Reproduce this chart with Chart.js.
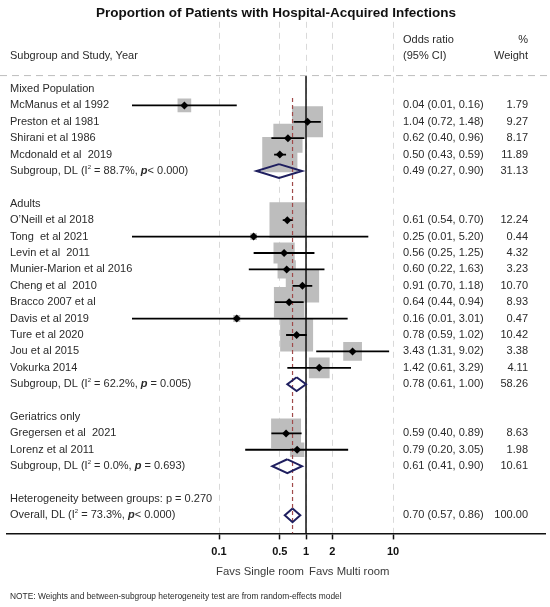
<!DOCTYPE html>
<html>
<head>
<meta charset="utf-8">
<script src="https://cdn.jsdelivr.net/npm/chart.js@4.4.1/dist/chart.umd.min.js"></script>
<style>
  html, body { margin: 0; padding: 0; background: #fff; }
  #wrap { width: 550px; height: 607px; position: relative; }
</style>
</head>
<body>
<div id="wrap"><canvas id="forest"></canvas></div>
<script>
// Study level results, top to bottom
const studyNames = [
  'McManus et al 1992', 'Preston et al 1981', 'Shirani et al 1986', 'Mcdonald et al  2019',
  'O\u2019Neill et al 2018', 'Tong  et al 2021', 'Levin et al  2011', 'Munier-Marion et al 2016',
  'Cheng et al  2010', 'Bracco 2007 et al', 'Davis et al 2019', 'Ture et al 2020',
  'Jou et al 2015', 'Vokurka 2014',
  'Gregersen et al  2021', 'Lorenz et al 2011'
];
const studyOR = [0.04, 1.04, 0.62, 0.50, 0.61, 0.25, 0.56, 0.60, 0.91, 0.64, 0.16, 0.78, 3.43, 1.42, 0.59, 0.79];
const studyLow = [0.01, 0.72, 0.40, 0.43, 0.54, 0.01, 0.25, 0.22, 0.70, 0.44, 0.01, 0.59, 1.31, 0.61, 0.40, 0.20];
const studyHigh = [0.16, 1.48, 0.96, 0.59, 0.70, 5.20, 1.25, 1.63, 1.18, 0.94, 3.01, 1.02, 9.02, 3.29, 0.89, 3.05];
const studyWeight = [1.79, 9.27, 8.17, 11.89, 12.24, 0.44, 4.32, 3.23, 10.70, 8.93, 0.47, 10.42, 3.38, 4.11, 8.63, 1.98];
const studyRows = [1, 2, 3, 4, 8, 9, 10, 11, 12, 13, 14, 15, 16, 17, 21, 22];

// Subgroup headings
const groupNames = ['Mixed Population', 'Adults', 'Geriatrics only'];
const groupRows = [0, 7, 20];

// Pooled estimates (three subgroups, then overall)
const pooledLabels = ['Subgroup, DL', 'Subgroup, DL', 'Subgroup, DL', 'Overall, DL'];
const pooledRows = [5, 18, 23, 26];
const pooledOR = [0.49, 0.78, 0.61, 0.70];
const pooledLow = [0.27, 0.61, 0.41, 0.57];
const pooledHigh = [0.90, 1.00, 0.90, 0.86];
const pooledWeight = [31.13, 58.26, 10.61, 100.00];
const pooledI2 = ['88.7%', '62.2%', '0.0%', '73.3%'];
const pooledP = ['< 0.000', ' = 0.005', ' = 0.693', '< 0.000'];

const hetText = 'Heterogeneity between groups: p = 0.270';
const hetRow = 25;

const tickValues = [0.1, 0.5, 1, 2, 10];
const tickLabels = ['0.1', '0.5', '1', '2', '10'];

const titleText = 'Proportion of Patients with Hospital-Acquired Infections';
const noteText = 'NOTE: Weights and between-subgroup heterogeneity test are from random-effects model';

const family = "'Liberation Sans', Arial, Helvetica, sans-serif";
const textColor = '#2a2a2a';
const overallOR = pooledOR[pooledOR.length - 1];

// line segments for the confidence intervals, broken with null points
const ciPoints = [];
studyRows.forEach((row, i) => {
  ciPoints.push({x: studyLow[i], y: row}, {x: studyHigh[i], y: row}, {x: null, y: null});
});

// outline of each pooled diamond
const diamondHalf = 0.42;
const diamondPoints = [];
pooledRows.forEach((row, i) => {
  diamondPoints.push(
    {x: pooledOR[i], y: row - diamondHalf},
    {x: pooledHigh[i], y: row},
    {x: pooledOR[i], y: row + diamondHalf},
    {x: pooledLow[i], y: row},
    {x: pooledOR[i], y: row - diamondHalf},
    {x: null, y: null}
  );
});

const estimatePoints = studyRows.map((row, i) => ({x: studyOR[i], y: row}));

function fmt(v) {
  return v.toFixed(2);
}

function ciText(or, lo, hi) {
  return `${fmt(or)} (${fmt(lo)}, ${fmt(hi)})`;
}

// draws "Subgroup, DL (I² = xx%, p< 0.000)" in pieces
function drawPooledLabel(ctx, x, y, label, i2, p) {
  const base = '11px ' + family;
  const parts = [
    {t: label + ' (I', font: base, dy: 0},
    {t: '2', font: '6px ' + family, dy: -4},
    {t: ' = ' + i2 + ', ', font: base, dy: 0},
    {t: 'p', font: 'bold italic 11px ' + family, dy: 0},
    {t: p + ')', font: base, dy: 0}
  ];
  let cx = x;
  parts.forEach(part => {
    ctx.font = part.font;
    ctx.fillText(part.t, cx, y + part.dy);
    cx += ctx.measureText(part.t).width;
  });
}

const forestText = {
  id: 'forestText',
  afterDraw(chart) {
    const {ctx} = chart;
    const ys = chart.scales.y;
    const xs = chart.scales.x;
    const orColX = 403;
    const wtColX = 528;
    const labelX = 10;

    ctx.save();
    ctx.fillStyle = textColor;
    ctx.textBaseline = 'middle';

    // title
    ctx.font = 'bold 13.5px ' + family;
    ctx.textAlign = 'center';
    ctx.fillStyle = '#111';
    ctx.fillText(titleText, 276, 13);
    ctx.fillStyle = textColor;

    // column headers
    ctx.font = '11px ' + family;
    ctx.textAlign = 'left';
    ctx.fillText('Subgroup and Study, Year', labelX, ys.getPixelForValue(-2.0));
    ctx.fillText('Odds ratio', orColX, ys.getPixelForValue(-3.0));
    ctx.fillText('(95% CI)', orColX, ys.getPixelForValue(-2.0));
    ctx.textAlign = 'right';
    ctx.fillText('%', wtColX, ys.getPixelForValue(-3.0));
    ctx.fillText('Weight', wtColX, ys.getPixelForValue(-2.0));

    // dashed rule under the header
    const ruleY = ys.getPixelForValue(-0.82);
    ctx.save();
    ctx.strokeStyle = '#bdbdbd';
    ctx.lineWidth = 1;
    ctx.setLineDash([7, 5]);
    ctx.beginPath();
    ctx.moveTo(0, ruleY);
    ctx.lineTo(550, ruleY);
    ctx.stroke();
    ctx.restore();

    // group headings
    ctx.textAlign = 'left';
    ctx.font = '11px ' + family;
    groupRows.forEach((row, i) => {
      ctx.fillText(groupNames[i], labelX, ys.getPixelForValue(row));
    });

    // studies
    studyRows.forEach((row, i) => {
      const py = ys.getPixelForValue(row);
      ctx.font = '11px ' + family;
      ctx.textAlign = 'left';
      ctx.fillText(studyNames[i], labelX, py);
      ctx.fillText(ciText(studyOR[i], studyLow[i], studyHigh[i]), orColX, py);
      ctx.textAlign = 'right';
      ctx.fillText(fmt(studyWeight[i]), wtColX, py);
    });

    // pooled rows
    pooledRows.forEach((row, i) => {
      const py = ys.getPixelForValue(row);
      ctx.textAlign = 'left';
      drawPooledLabel(ctx, labelX, py, pooledLabels[i], pooledI2[i], pooledP[i]);
      ctx.font = '11px ' + family;
      ctx.fillText(ciText(pooledOR[i], pooledLow[i], pooledHigh[i]), orColX, py);
      ctx.textAlign = 'right';
      ctx.fillText(fmt(pooledWeight[i]), wtColX, py);
    });

    ctx.textAlign = 'left';
    ctx.font = '11px ' + family;
    ctx.fillText(hetText, labelX, ys.getPixelForValue(hetRow));

    // direction labels under the axis
    const nullX = xs.getPixelForValue(1);
    ctx.font = '11.3px ' + family;
    ctx.fillStyle = '#3a3a3a';
    ctx.textAlign = 'right';
    ctx.fillText('Favs Single room', nullX - 2, 572);
    ctx.textAlign = 'left';
    ctx.fillText('Favs Multi room', nullX + 3, 572);

    // footnote
    ctx.font = '8.4px ' + family;
    ctx.fillStyle = textColor;
    ctx.fillText(noteText, labelX, 597);
    ctx.restore();
  }
};

Chart.defaults.font.family = family;

new Chart(document.getElementById('forest'), {
  type: 'scatter',
  data: {
    datasets: [
      {
        // point estimates
        data: estimatePoints,
        pointStyle: 'rectRot',
        pointRadius: 4,
        backgroundColor: '#000',
        borderWidth: 0
      },
      {
        // confidence intervals
        data: ciPoints,
        showLine: true,
        spanGaps: false,
        borderColor: '#000',
        borderWidth: 1.8,
        pointRadius: 0
      },
      {
        // pooled diamonds
        data: diamondPoints,
        showLine: true,
        spanGaps: false,
        borderColor: '#1f1f5f',
        borderWidth: 2,
        borderJoinStyle: 'miter',
        pointRadius: 0,
        fill: false
      },
      {
        // overall estimate
        data: [{x: overallOR, y: 0.55}, {x: overallOR, y: 27.1}],
        showLine: true,
        borderColor: '#a04a4a',
        borderWidth: 1.2,
        borderDash: [4, 3],
        pointRadius: 0
      },
      {
        // line of no effect
        data: [{x: 1, y: -0.8}, {x: 1, y: 27.1}],
        showLine: true,
        borderColor: '#111',
        borderWidth: 1.5,
        pointRadius: 0
      },
      {
        // weight boxes, area proportional to weight
        data: estimatePoints,
        pointStyle: 'rect',
        pointRadius: c => (10.2 * Math.sqrt(studyWeight[c.dataIndex] || 0)) / Math.SQRT2,
        backgroundColor: '#bdbdbd',
        borderWidth: 0
      }
    ]
  },
  options: {
    responsive: true,
    maintainAspectRatio: false,
    animation: false,
    events: [],
    layout: {
      autoPadding: false,
      padding: {left: 7, right: 5, top: 21.8, bottom: 42.4}
    },
    plugins: {
      legend: {display: false},
      tooltip: {enabled: false},
      title: {display: false}
    },
    scales: {
      x: {
        type: 'logarithmic',
        min: 0.000366,
        max: 558,
        afterBuildTicks: scale => {
          scale.ticks = tickValues.map(v => ({value: v}));
        },
        ticks: {
          autoSkip: false,
          maxRotation: 0,
          padding: 6,
          color: '#111',
          font: {size: 11, weight: 'bold'},
          callback: (value, index) => tickLabels[index]
        },
        grid: {
          color: '#d9d9d9',
          lineWidth: 1,
          drawTicks: true,
          tickLength: 6,
          tickColor: '#111',
          tickWidth: 1.5
        },
        border: {
          display: true,
          color: '#111',
          width: 1.5,
          dash: [6, 5]
        }
      },
      y: {
        type: 'linear',
        reverse: true,
        min: -4.1,
        max: 27.1,
        display: false
      }
    }
  },
  plugins: [forestText]
});
</script>
</body>
</html>
